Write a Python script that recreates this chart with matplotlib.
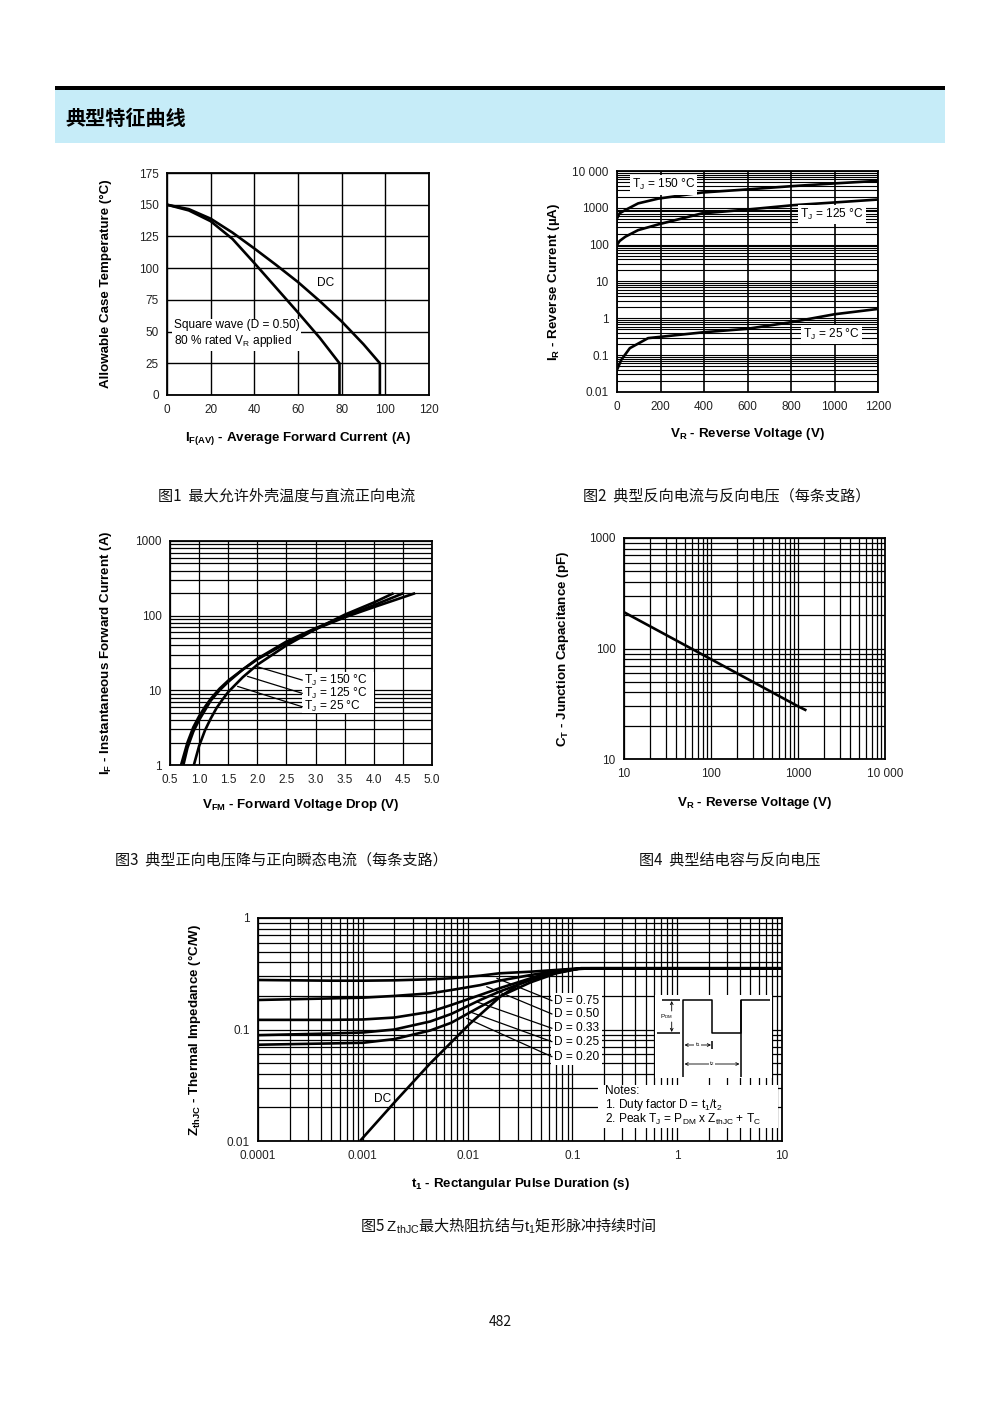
#!/usr/bin/env python3
"""Datasheet page: typical characteristic curves (figs 1-5)."""

import matplotlib

matplotlib.use("Agg")
import matplotlib.pyplot as plt
import numpy as np
from matplotlib.patches import Rectangle
from matplotlib.ticker import FixedLocator, FixedFormatter, LogLocator, NullFormatter

W, H = 1000, 1414

plt.rcParams["font.family"] = ["Liberation Sans", "Noto Sans CJK SC", "DejaVu Sans"]
plt.rcParams["mathtext.fontset"] = "custom"
plt.rcParams["mathtext.rm"] = "Liberation Sans"
plt.rcParams["mathtext.it"] = "Liberation Sans:italic"
plt.rcParams["mathtext.bf"] = "Liberation Sans:bold"

CJK = ["Noto Sans CJK SC", "Liberation Sans"]

# ---- fig 1: allowable case temperature vs average forward current
fig1_sq_current = [0, 10, 20, 30, 40, 50, 60, 70, 79, 79]
fig1_sq_temp = [150, 145.5, 137, 123, 104, 84.5, 65, 45, 25, 0]
fig1_dc_current = [0, 10, 20, 30, 40, 50, 60, 70, 80, 90, 97.5, 97.5]
fig1_dc_temp = [150, 146.5, 139, 128, 115.5, 102.5, 89, 74, 58, 40, 25, 0]

# ---- fig 2: reverse current vs reverse voltage
fig2_v150 = [0, 12, 38, 97, 190, 390, 600, 810, 1000, 1200]
fig2_i150 = [515, 710, 870, 1320, 1780, 2600, 3170, 3900, 4600, 5400]
fig2_v125 = [0, 12, 38, 97, 190, 390, 600, 810, 1000, 1200]
fig2_i125 = [98, 126, 164, 248, 355, 705, 900, 1180, 1400, 1680]
fig2_v25 = [0, 20, 59, 143, 400, 600, 800, 1000, 1200]
fig2_i25 = [0.04, 0.075, 0.155, 0.29, 0.42, 0.52, 0.785, 1.29, 1.8]

# ---- fig 3: forward current vs forward voltage
fig3_v150 = [0.69, 0.8, 0.9, 1.0, 1.1, 1.2, 1.35, 1.5, 1.75, 2.0, 2.5, 3.0, 3.5, 4.0, 4.71]
fig3_i150 = [1, 2.0, 3.2, 4.5, 6.0, 7.7, 10.5, 13.5, 19, 26, 43, 66, 95, 130, 200]
fig3_v125 = [0.73, 0.8, 0.9, 1.0, 1.2, 1.35, 1.5, 1.75, 2.0, 2.5, 3.0, 3.5, 4.0, 4.51]
fig3_i125 = [1, 1.7, 2.8, 4.0, 7.3, 10, 13, 19, 26.5, 45, 68, 98, 138, 200]
fig3_v25 = [0.91, 1.0, 1.1, 1.2, 1.3, 1.4, 1.5, 1.75, 2.0, 2.5, 3.0, 3.5, 4.0, 4.34]
fig3_i25 = [1, 1.8, 2.9, 4.2, 5.8, 7.5, 9.5, 15, 22, 40, 66, 103, 150, 200]

# ---- fig 4: junction capacitance vs reverse voltage
fig4_v = [10, 100, 1000, 1250]
fig4_c = [213, 80, 30, 27.5]

# ---- fig 5: thermal impedance vs pulse duration
fig5_t = [1e-4, 4.9e-4, 1e-3, 2e-3, 4.4e-3, 7e-3, 0.0132, 0.02, 0.04, 0.07, 0.12, 10]
fig5_z = {
    "0.75": [0.278, 0.274, 0.274, 0.276, 0.282, 0.288, 0.304, 0.319, 0.330, 0.342, 0.354, 0.354],
    "0.50": [0.184, 0.190, 0.193, 0.200, 0.211, 0.226, 0.250, 0.274, 0.308, 0.335, 0.354, 0.354],
    "0.33": [0.122, 0.122, 0.123, 0.128, 0.144, 0.166, 0.204, 0.234, 0.288, 0.326, 0.354, 0.354],
    "0.25": [0.089, 0.092, 0.094, 0.100, 0.118, 0.138, 0.184, 0.218, 0.278, 0.323, 0.354, 0.354],
    "0.20": [0.073, 0.075, 0.076, 0.082, 0.098, 0.115, 0.160, 0.197, 0.265, 0.319, 0.354, 0.354],
}
fig5_dc_t = [9.4e-4, 2.1e-3, 4.4e-3, 0.0106, 0.0205, 0.032, 0.05, 0.082, 0.15, 10]
fig5_dc_z = [0.01, 0.0233, 0.0497, 0.1135, 0.197, 0.26, 0.31, 0.342, 0.354, 0.354]

CURVE = dict(color="black", lw=1.9, solid_capstyle="butt", zorder=2)
LEADER = dict(arrowstyle="-", lw=0.9, color="black", shrinkA=0, shrinkB=0)
NOTE_FS = 8.6
LABEL_FS = 9.6


def fig_box(box):
    left, top, right, bottom = box
    return [left / W, 1 - bottom / H, (right - left) / W, (bottom - top) / H]


def to_axes(box, x, y):
    left, top, right, bottom = box
    return (x - left) / (right - left), (bottom - y) / (bottom - top)


def make_axes(fig, box, xlabel, ylabel, xpad, ypad):
    ax = fig.add_axes(fig_box(box))
    for s in ax.spines.values():
        s.set_linewidth(1.3)
        s.set_color("black")
        s.set_zorder(2.5)
    ax.tick_params(which="both", length=0, labelsize=8.5, labelcolor="#222")
    ax.tick_params(axis="x", pad=6.5)
    ax.tick_params(axis="y", pad=6)
    ax.set_axisbelow(True)
    left, top, right, bottom = box
    ax.set_xlabel(xlabel, fontsize=LABEL_FS, fontweight="bold")
    ax.xaxis.set_label_coords(0.5, -xpad / (bottom - top))
    ax.set_ylabel(ylabel, fontsize=LABEL_FS, fontweight="bold")
    ax.yaxis.set_label_coords(-ypad / (right - left), 0.5)
    return ax


def log_axis(axis, ticks, labels):
    axis.set_major_locator(FixedLocator(ticks))
    axis.set_major_formatter(FixedFormatter(labels))
    axis.set_minor_locator(LogLocator(base=10, subs=np.arange(2, 10)))
    axis.set_minor_formatter(NullFormatter())


def white_box(ax, box, x0, y0, x1, y1):
    ax0, ay0 = to_axes(box, x0, y1)
    ax1, ay1 = to_axes(box, x1, y0)
    ax.add_patch(Rectangle((ax0, ay0), ax1 - ax0, ay1 - ay0, transform=ax.transAxes,
                           facecolor="white", edgecolor="none", zorder=1))


fig = plt.figure(figsize=(W / 100, H / 100), dpi=100)

# header band
fig.add_artist(Rectangle((55 / W, 1 - 89.5 / H), 890 / W, 3 / H, transform=fig.transFigure,
                         facecolor="black", edgecolor="none"))
fig.add_artist(Rectangle((55 / W, 1 - 143 / H), 890 / W, 53 / H, transform=fig.transFigure,
                         facecolor="#c6ecf8", edgecolor="none"))
fig.text(65 / W, 1 - 118 / H, "典型特征曲线", family=CJK, fontsize=14.5, fontweight="bold",
         va="center", ha="left")

# ---------------- fig 1
B1 = (167, 173, 429, 395)
ax1 = make_axes(fig, B1, r"$\mathbf{I_{F(AV)}}$ - Average Forward Current (A)",
                "Allowable Case Temperature (°C)", 35, 55)
ax1.plot(fig1_sq_current, fig1_sq_temp, **CURVE)
ax1.plot(fig1_dc_current, fig1_dc_temp, **CURVE)
ax1.set_xlim(0, 120)
ax1.set_ylim(0, 175)
ax1.set_xticks(np.arange(0, 121, 20))
ax1.set_yticks(np.arange(0, 176, 25))
ax1.grid(color="black", lw=1.0)
ax1.text(0.025, 0.275, "Square wave (D = 0.50)\n80 % rated V$_\\mathrm{R}$ applied",
         transform=ax1.transAxes, fontsize=NOTE_FS, va="center", ha="left", linespacing=1.15,
         bbox=dict(facecolor="white", edgecolor="none", pad=1.5), zorder=3)
ax1.text(0.607, 0.505, "DC", transform=ax1.transAxes, fontsize=NOTE_FS, va="center", ha="center",
         bbox=dict(facecolor="white", edgecolor="none", pad=1), zorder=3)

# ---------------- fig 2
B2 = (617, 171, 878, 392)
ax2 = make_axes(fig, B2, r"$\mathbf{V_R}$ - Reverse Voltage (V)",
                r"$\mathbf{I_R}$ - Reverse Current (µA)", 34, 55)
ax2.plot(fig2_v150, fig2_i150, **CURVE)
ax2.plot(fig2_v125, fig2_i125, **CURVE)
ax2.plot(fig2_v25, fig2_i25, **CURVE)
ax2.set_yscale("log")
ax2.set_xlim(0, 1200)
ax2.set_ylim(0.01, 10000)
ax2.set_xticks(np.arange(0, 1201, 200))
log_axis(ax2.yaxis, [0.01, 0.1, 1, 10, 100, 1000, 10000],
         ["0.01", "0.1", "1", "10", "100", "1000", "10 000"])
ax2.grid(which="both", axis="y", color="black", lw=0.8)
ax2.grid(which="major", axis="x", color="black", lw=1.2)
TXT2 = dict(transform=ax2.transAxes, fontsize=NOTE_FS, va="center", ha="left", zorder=3,
            bbox=dict(facecolor="white", edgecolor="none", pad=1.5))
ax2.text(0.057, 0.937, "T$_\\mathrm{J}$ = 150 °C", **TXT2)
ax2.text(0.703, 0.805, "T$_\\mathrm{J}$ = 125 °C", **TXT2)
ax2.text(0.714, 0.262, "T$_\\mathrm{J}$ = 25 °C", **TXT2)

# ---------------- fig 3
B3 = (170, 541, 432, 765)
ax3 = make_axes(fig, B3, r"$\mathbf{V_{FM}}$ - Forward Voltage Drop (V)",
                r"$\mathbf{I_F}$ - Instantaneous Forward Current (A)", 32, 56)
ax3.plot(fig3_v150, fig3_i150, **CURVE)
ax3.plot(fig3_v125, fig3_i125, **CURVE)
ax3.plot(fig3_v25, fig3_i25, **CURVE)
ax3.set_yscale("log")
ax3.set_xlim(0.5, 5.0)
ax3.set_ylim(1, 1000)
ax3.set_xticks(np.arange(0.5, 5.01, 0.5))
ax3.set_xticklabels(["{:.1f}".format(v) for v in np.arange(0.5, 5.01, 0.5)])
log_axis(ax3.yaxis, [1, 10, 100, 1000], ["1", "10", "100", "1000"])
ax3.grid(which="both", color="black", lw=0.9)
white_box(ax3, B3, 302, 672, 374, 713)
for (v, i), label, yf in zip([(1.97, 21), (1.83, 15.4), (1.66, 11.3)],
                             ["150", "125", "25"], [0.379, 0.320, 0.260]):
    ax3.annotate("", xy=(v, i), xytext=(0.505, yf), textcoords="axes fraction",
                 arrowprops=LEADER, zorder=2)
    ax3.text(0.512, yf, "T$_\\mathrm{J}$ = %s °C" % label, transform=ax3.transAxes,
             fontsize=NOTE_FS, va="center", ha="left", zorder=3)

# ---------------- fig 4
B4 = (624, 538, 885, 759)
ax4 = make_axes(fig, B4, r"$\mathbf{V_R}$ - Reverse Voltage (V)",
                r"$\mathbf{C_T}$ - Junction Capacitance (pF)", 36, 53)
ax4.plot(fig4_v, fig4_c, **CURVE)
ax4.set_xscale("log")
ax4.set_yscale("log")
ax4.set_xlim(10, 10000)
ax4.set_ylim(10, 1000)
log_axis(ax4.xaxis, [10, 100, 1000, 10000], ["10", "100", "1000", "10 000"])
log_axis(ax4.yaxis, [10, 100, 1000], ["10", "100", "1000"])
ax4.grid(which="both", color="black", lw=0.9)

# ---------------- fig 5
B5 = (258, 918, 782, 1141)
ax5 = make_axes(fig, B5, r"$\mathbf{t_1}$ - Rectangular Pulse Duration (s)",
                r"$\mathbf{Z_{thJC}}$ - Thermal Impedance (°C/W)", 35, 55)
for duty, zs in fig5_z.items():
    ax5.plot(fig5_t, zs, **CURVE)
ax5.plot(fig5_dc_t, fig5_dc_z, **CURVE)
ax5.set_xscale("log")
ax5.set_yscale("log")
ax5.set_xlim(1e-4, 10)
ax5.set_ylim(0.01, 1)
log_axis(ax5.xaxis, [1e-4, 1e-3, 1e-2, 0.1, 1, 10], ["0.0001", "0.001", "0.01", "0.1", "1", "10"])
log_axis(ax5.yaxis, [0.01, 0.1, 1], ["0.01", "0.1", "1"])
ax5.grid(which="both", color="black", lw=0.9)

white_box(ax5, B5, 551, 993, 602, 1065)   # duty labels
white_box(ax5, B5, 655, 995, 772, 1078)   # pulse sketch
white_box(ax5, B5, 598, 1085, 778, 1128)  # notes
white_box(ax5, B5, 374, 1092, 393, 1106)  # DC label

leader_starts = [(0.019, 0.288), (0.0152, 0.242), (0.0122, 0.177), (0.0105, 0.144), (0.0098, 0.126)]
label_y = [1000.7, 1014, 1028.3, 1041.7, 1056.7]
for (t, z), duty, py in zip(leader_starts, fig5_z.keys(), label_y):
    xf, yf = to_axes(B5, 552, py)
    ax5.annotate("", xy=(t, z), xytext=(xf, yf), textcoords="axes fraction",
                 arrowprops=LEADER, zorder=2)
    ax5.text(xf + 0.003, yf, "D = %s" % duty, transform=ax5.transAxes, fontsize=NOTE_FS,
             va="center", ha="left", zorder=3)
ax5.text(*to_axes(B5, 383, 1099), "DC", transform=ax5.transAxes, fontsize=NOTE_FS,
         va="center", ha="center", zorder=3)

notes = ["Notes:", "1. Duty factor D = t$_\\mathrm{1}$/t$_\\mathrm{2}$",
         "2. Peak T$_\\mathrm{J}$ = P$_\\mathrm{DM}$ x Z$_\\mathrm{thJC}$ + T$_\\mathrm{C}$"]
for line, py in zip(notes, [1091, 1105, 1119.5]):
    ax5.text(*to_axes(B5, 605, py), line, transform=ax5.transAxes, fontsize=NOTE_FS,
             va="center", ha="left", zorder=3)

# pulse sketch (pixel geometry of the drawing)
pulse_segments = [
    [(661.7, 1000), (680, 1000)],
    [(656.7, 1033.3), (680, 1033.3)],
    [(683.3, 1076.7), (683.3, 1000), (712.3, 1000), (712.3, 1033.3), (740.7, 1033.3), (740.7, 1000), (770, 1000)],
    [(740.7, 1000), (740.7, 1076.7)],
    [(712.3, 1041), (712.3, 1049)],
]
for seg in pulse_segments:
    pts = np.array([to_axes(B5, x, y) for x, y in seg])
    ax5.plot(pts[:, 0], pts[:, 1], transform=ax5.transAxes, color="black", lw=1.1, zorder=3,
             solid_capstyle="butt")
ARROW = dict(arrowstyle="->", lw=0.6, color="black", shrinkA=0, shrinkB=0, mutation_scale=5)
for (x0, y0), (x1, y1) in [((671.7, 1011), (671.7, 1001)), ((671.7, 1022), (671.7, 1032)),
                           ((697.8, 1045), (684.5, 1045)), ((697.8, 1045), (711, 1045)),
                           ((712, 1064), (684.5, 1064)), ((712, 1064), (739.5, 1064))]:
    ax5.annotate("", xy=to_axes(B5, x1, y1), xytext=to_axes(B5, x0, y0), xycoords="axes fraction",
                 textcoords="axes fraction", arrowprops=ARROW, zorder=3)
SMALL = dict(transform=ax5.transAxes, fontsize=4.5, va="center", ha="center", zorder=4,
             bbox=dict(facecolor="white", edgecolor="none", pad=0.3))
ax5.text(*to_axes(B5, 666.5, 1016.5), "P$_\\mathrm{DM}$", **SMALL)
ax5.text(*to_axes(B5, 697.8, 1045), "t$_\\mathrm{1}$", **SMALL)
ax5.text(*to_axes(B5, 712, 1064), "t$_\\mathrm{2}$", **SMALL)

# captions
CAP = dict(fontsize=10.9, va="center", ha="center", color="#111")
fig.text(287 / W, 1 - 496 / H, "图1  最大允许外壳温度与直流正向电流", family=CJK, **CAP)
fig.text(727 / W, 1 - 496 / H, "图2  典型反向电流与反向电压（每条支路）", family=CJK, **CAP)
fig.text(281 / W, 1 - 860 / H, "图3  典型正向电压降与正向瞬态电流（每条支路）", family=CJK, **CAP)
fig.text(730 / W, 1 - 860 / H, "图4  典型结电容与反向电压", family=CJK, **CAP)
fig.text(508 / W, 1 - 1226 / H, r"图5 $\mathrm{Z_{thJC}}$最大热阻抗结与$\mathrm{t_1}$矩形脉冲持续时间",
         family="Noto Sans CJK SC", **CAP)
fig.text(500 / W, 1 - 1322 / H, "482", family=CJK, fontsize=10, va="center", ha="center", color="#111")

fig.savefig("out.png", dpi=100, facecolor="white")
